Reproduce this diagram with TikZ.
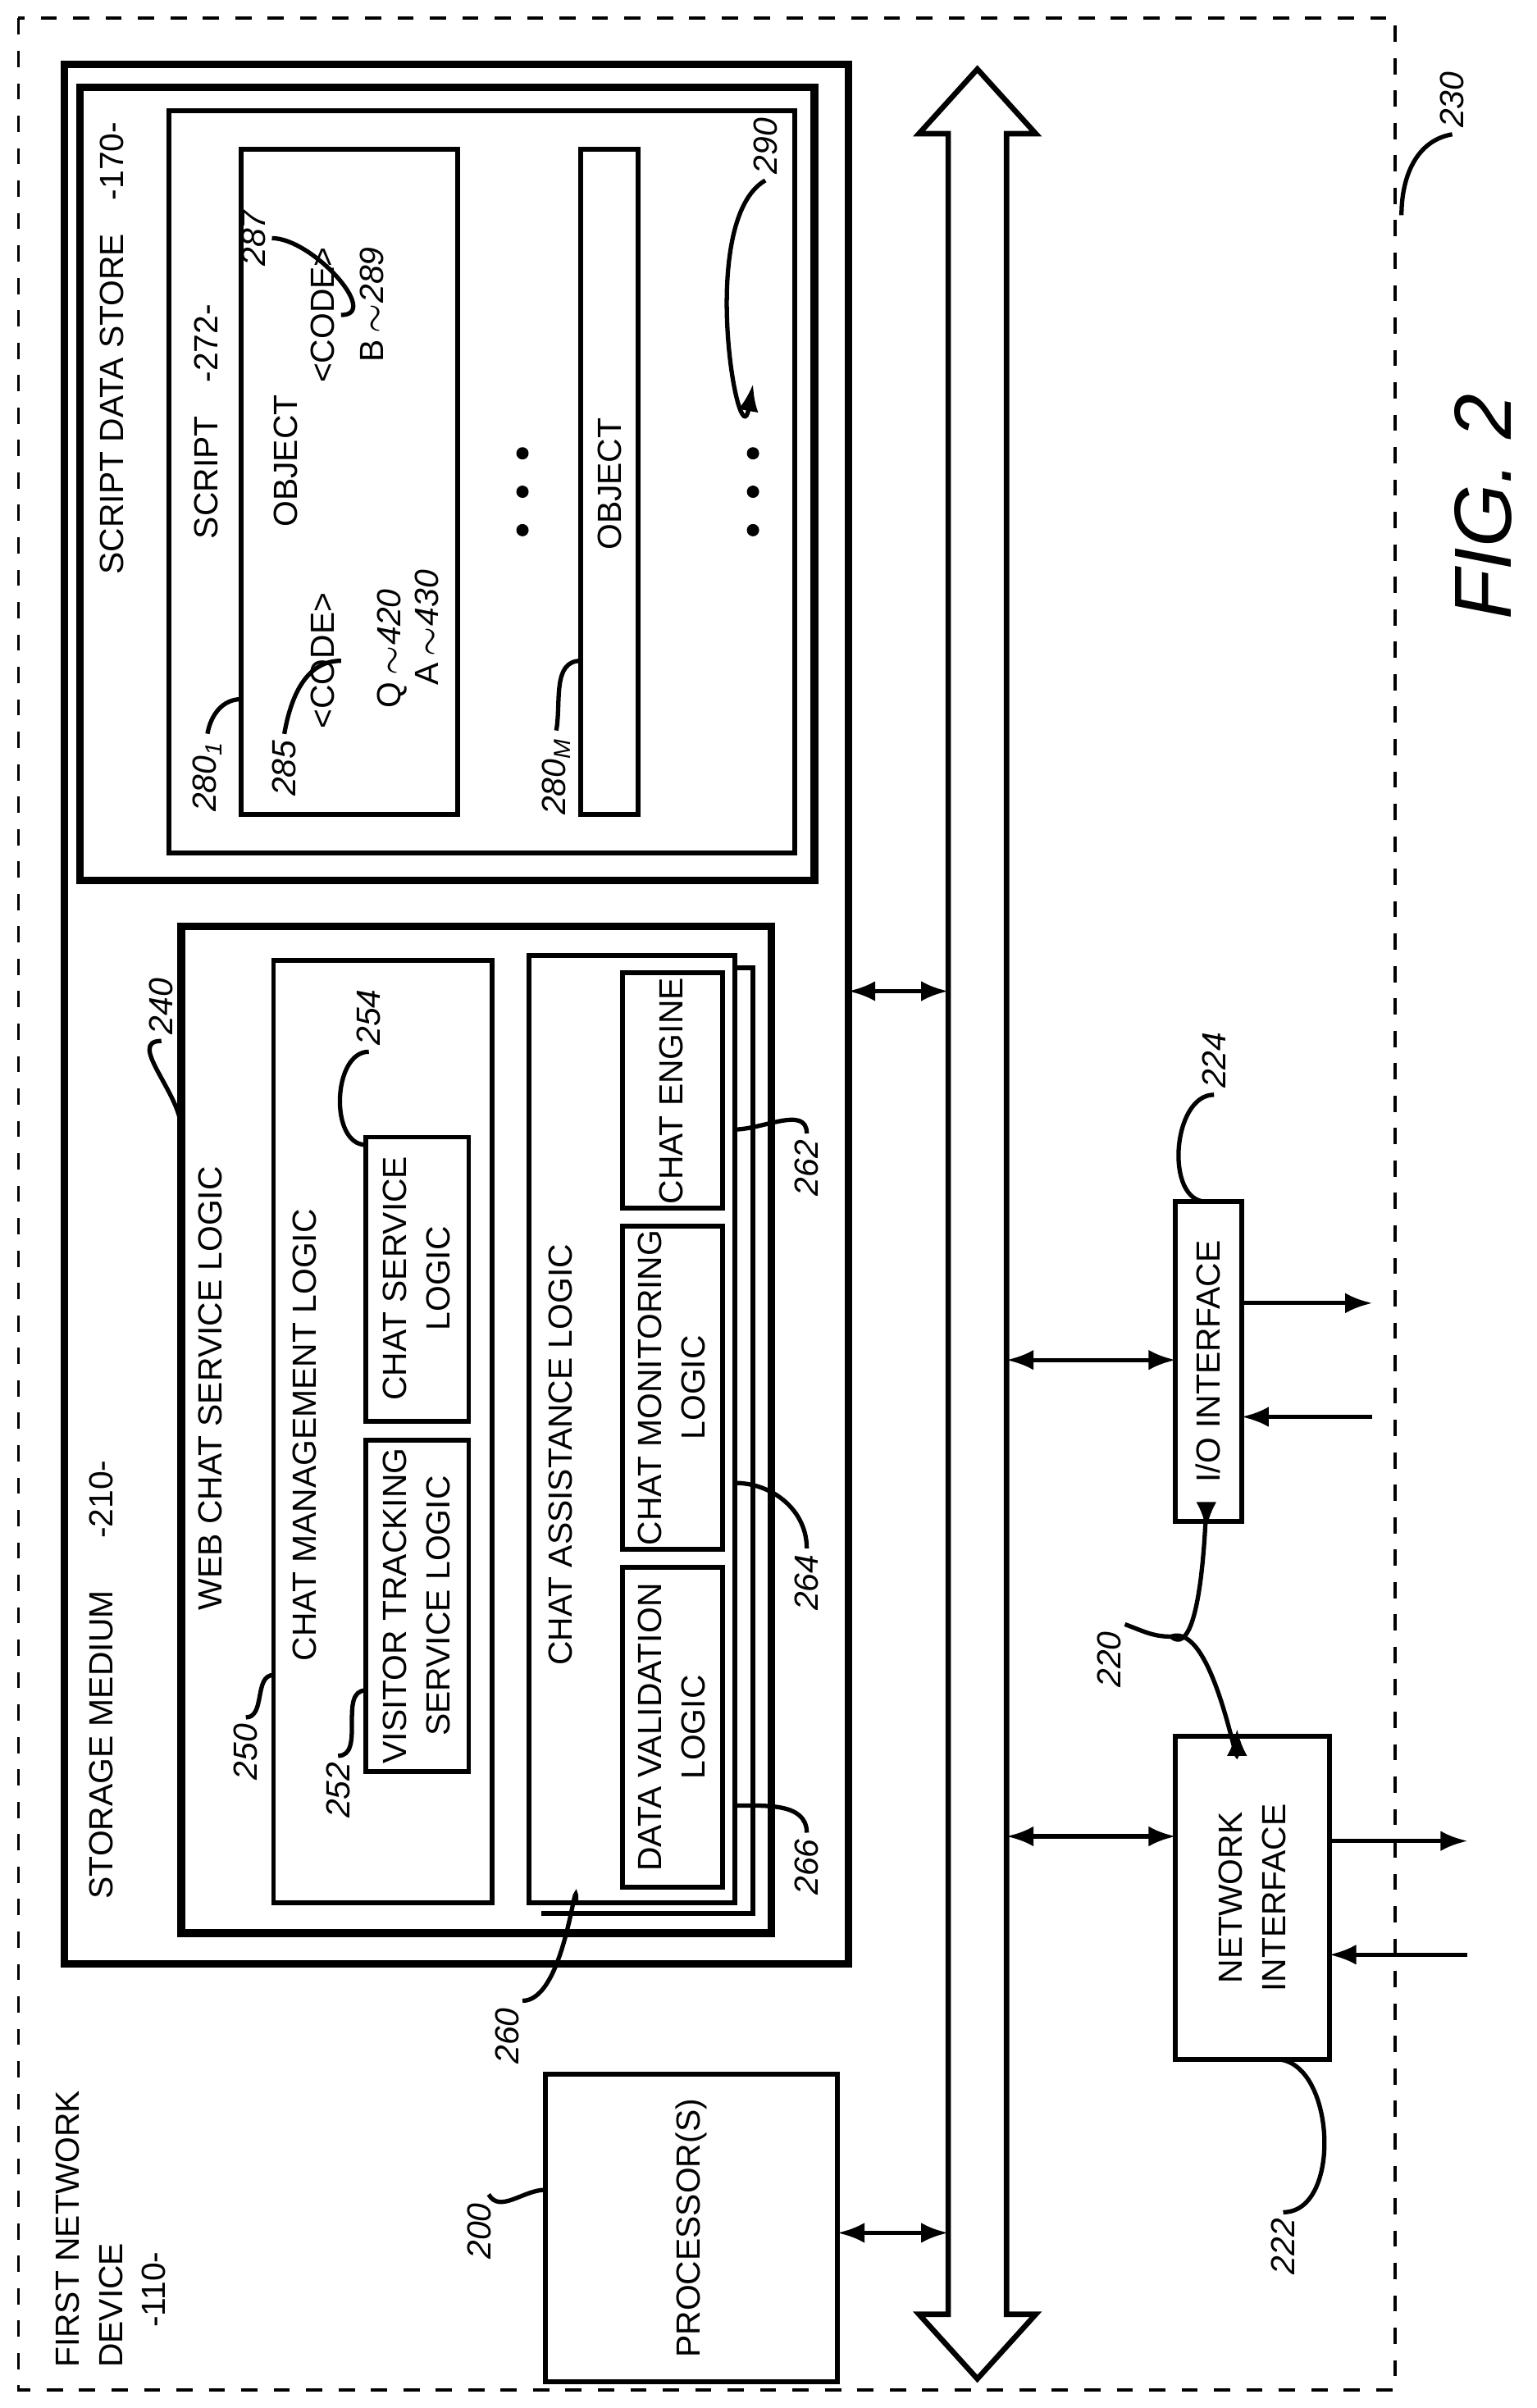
\documentclass[tikz,border=0pt]{standalone}
\usepackage{fontspec}
\setmainfont{Liberation Sans}
\usetikzlibrary{arrows.meta}
\begin{document}
\begin{tikzpicture}[x=0.01cm,y=-0.01cm]
\tikzstyle{txt}=[rotate=90,font=\fontsize{6.2}{8}\selectfont,align=center,inner sep=1pt]
\tikzstyle{lbl}=[rotate=90,font=\fontsize{6.2}{7.5}\selectfont\itshape,inner sep=1pt]
\tikzstyle{box}=[draw,line width=0.9pt]
\tikzstyle{thick box}=[draw,line width=1.4pt]
\tikzstyle{lead}=[line width=0.8pt]
\tikzstyle{dbl}=[line width=0.8pt,{Latex[length=5pt]}-{Latex[length=5pt]}]
\tikzstyle{sgl}=[line width=0.8pt,-{Latex[length=5pt]}]
\useasboundingbox (0,0) rectangle (1000,1567);
% device
\draw[dashed,line width=0.6pt] (12,12) rectangle (908,1555);
\node[txt,anchor=north west,align=left] (dev) at (32,1545) {FIRST NETWORK\\DEVICE\\\hspace*{1.2em}-110-};
\node[lbl] (L230) at (945,65) {230};
\draw[lead] (L230.west) to[out=190,in=90] (912,140);
% storage medium
\draw[thick box] (42,42) rectangle (552,1278);
\node[txt,anchor=west] (sm) at (66,1240) {STORAGE MEDIUM\quad\ \ -210-};
% script data store
\draw[thick box] (52,57) rectangle (530,573);
\node[txt,anchor=west] (sds) at (73,378) {SCRIPT DATA STORE\quad -170-};
\draw[box] (110,72) rectangle (517,555);
\node[txt,anchor=west] (scr) at (134,355) {SCRIPT\quad -272-};
\draw[box] (157,97) rectangle (298,530);
\draw[box] (378,97) rectangle (415,530);
\node[txt] (ob1) at (186,300) {OBJECT};
\node[txt] (obM) at (397,315) {OBJECT};
\node[txt] (c1) at (210,430) {<CODE>};
\node[txt] (c2) at (210,205) {<CODE>};
\node[txt,anchor=west] (q) at (255,465) {Q\,$\sim$\textit{420}};
\node[txt,anchor=west] (a) at (278,450) {A\,$\sim$\textit{430}};
\node[txt,anchor=west] (b) at (242,240) {B\,$\sim$\textit{289}};
\node[lbl] (L287) at (165,155) {287};
\node[lbl] (L285) at (185,500) {285};
\node[lbl] (L280a) at (135,505) {280\textsubscript{1}};
\node[lbl] (L280m) at (362,505) {280\textsubscript{M}};
\node[lbl] (L290) at (498,95) {290};
\draw[lead] (L287.south) to[out=0,in=0] (c2.south);
\draw[lead] (L285.east) to[out=80,in=180] (c1.south);
\draw[lead] (L280a.east) to[out=80,in=180] (157,455);
\draw[lead] (L280m.east) to[out=80,in=180] (378,430);
\draw[sgl] (L290.west) to[out=-150,in=-100] (490,250);
\foreach \yy in {295,320,345} {
  \fill (340,\yy) circle (4);
  \fill (490,\yy) circle (4);
}
% web chat service logic
\draw[thick box] (118,603) rectangle (502,1258);
\node[txt,anchor=west] (wcs) at (137,1052) {WEB CHAT SERVICE LOGIC};
\node[lbl] (L240) at (105,655) {240};
\draw[lead] (L240.west) to[out=180,in=90] (118,735);
\draw[box] (178,625) rectangle (320,1238);
\node[txt,anchor=west] (cml) at (198,1085) {CHAT MANAGEMENT LOGIC};
\node[lbl] (L250) at (160,1140) {250};
\draw[lead] (L250.east) to[out=0,in=180] (178,1090);
\draw[box] (238,740) rectangle (305,925);
\node[txt] (csl) at (271,832) {CHAT SERVICE\\LOGIC};
\node[lbl] (L254) at (240,662) {254};
\draw[lead] (L254.west) to[out=180,in=180] (238,745);
\draw[box] (238,937) rectangle (305,1153);
\node[txt] (vts) at (271,1045) {VISITOR TRACKING\\SERVICE LOGIC};
\node[lbl] (L252) at (220,1165) {252};
\draw[lead] (L252.east) to[out=0,in=180] (238,1100);
% chat assistance logic
\draw[box] (344,622) rectangle (478,1238);
\draw[box] (478,630) -- (490,630) -- (490,1245) -- (352,1245);
\node[txt,anchor=west] (cal) at (365,1088) {CHAT ASSISTANCE LOGIC};
\node[lbl] (L260) at (330,1325) {260};
\coordinate (t260) at (340,1302);
\draw[lead] (t260) to[out=0,in=90] (375,1238);
\draw[box] (405,633) rectangle (470,786);
\node[txt] (ce) at (437,710) {CHAT ENGINE};
\node[lbl] (L262) at (525,760) {262};
\draw[lead] (L262.east) to[out=90,in=0] (478,735);
\draw[box] (405,798) rectangle (470,1008);
\node[txt] (cmon) at (437,903) {CHAT MONITORING\\LOGIC};
\node[lbl] (L264) at (525,1030) {264};
\draw[lead] (L264.east) to[out=90,in=0] (478,965);
\draw[box] (405,1020) rectangle (470,1228);
\node[txt] (dvl) at (437,1124) {DATA VALIDATION\\LOGIC};
\node[lbl] (L266) at (525,1215) {266};
\draw[lead] (L266.east) to[out=90,in=0] (478,1175);
% processor
\draw[box] (355,1350) rectangle (545,1550);
\node[txt] (proc) at (450,1450) {PROCESSOR(S)};
\node[lbl] (L200) at (312,1452) {200};
\coordinate (t200) at (318,1428);
\draw[lead] (t200) to[out=-60,in=180] (355,1425);
% bus
\draw[line width=1pt] (617,200) -- (617,87) -- (598,87) -- (636,45) -- (674,87) -- (655,87)
  -- (655,1506) -- (674,1506) -- (636,1548) -- (598,1506) -- (617,1506) -- cycle;
\draw[dbl] (552,645) -- (617,645);
\draw[dbl] (545,1453) -- (617,1453);
\draw[dbl] (655,885) -- (765,885);
\draw[dbl] (655,1195) -- (765,1195);
% I/O interface
\draw[box] (765,782) rectangle (808,990);
\node[txt] (io) at (786,886) {I/O INTERFACE};
\node[lbl] (L224) at (790,690) {224};
\draw[lead] (L224.west) to[out=180,in=180] (785,782);
\draw[sgl] (808,848) -- (893,848);
\draw[sgl] (893,922) -- (808,922);
% network interface
\draw[box] (765,1130) rectangle (865,1340);
\node[txt] (ni) at (815,1235) {NETWORK\\INTERFACE};
\draw[sgl] (865,1198) -- (955,1198);
\draw[sgl] (955,1272) -- (865,1272);
\node[lbl] (L222) at (835,1462) {222};
\draw[lead] (L222.east) to[out=0,in=0] (830,1340);
\node[lbl] (L220) at (722,1080) {220};
\coordinate (t220) at (732,1057);
\coordinate (fork) at (762,1065);
\draw[lead] (t220) to[out=-20,in=180] (fork);
\draw[sgl] (fork) to[out=-40,in=90] (785,995);
\draw[sgl] (fork) to[out=20,in=-90] (805,1125);
% figure label
\node[rotate=90,font=\fontsize{15}{17}\selectfont\itshape] (fig) at (965,330) {FIG. 2};
\end{tikzpicture}
\end{document}
